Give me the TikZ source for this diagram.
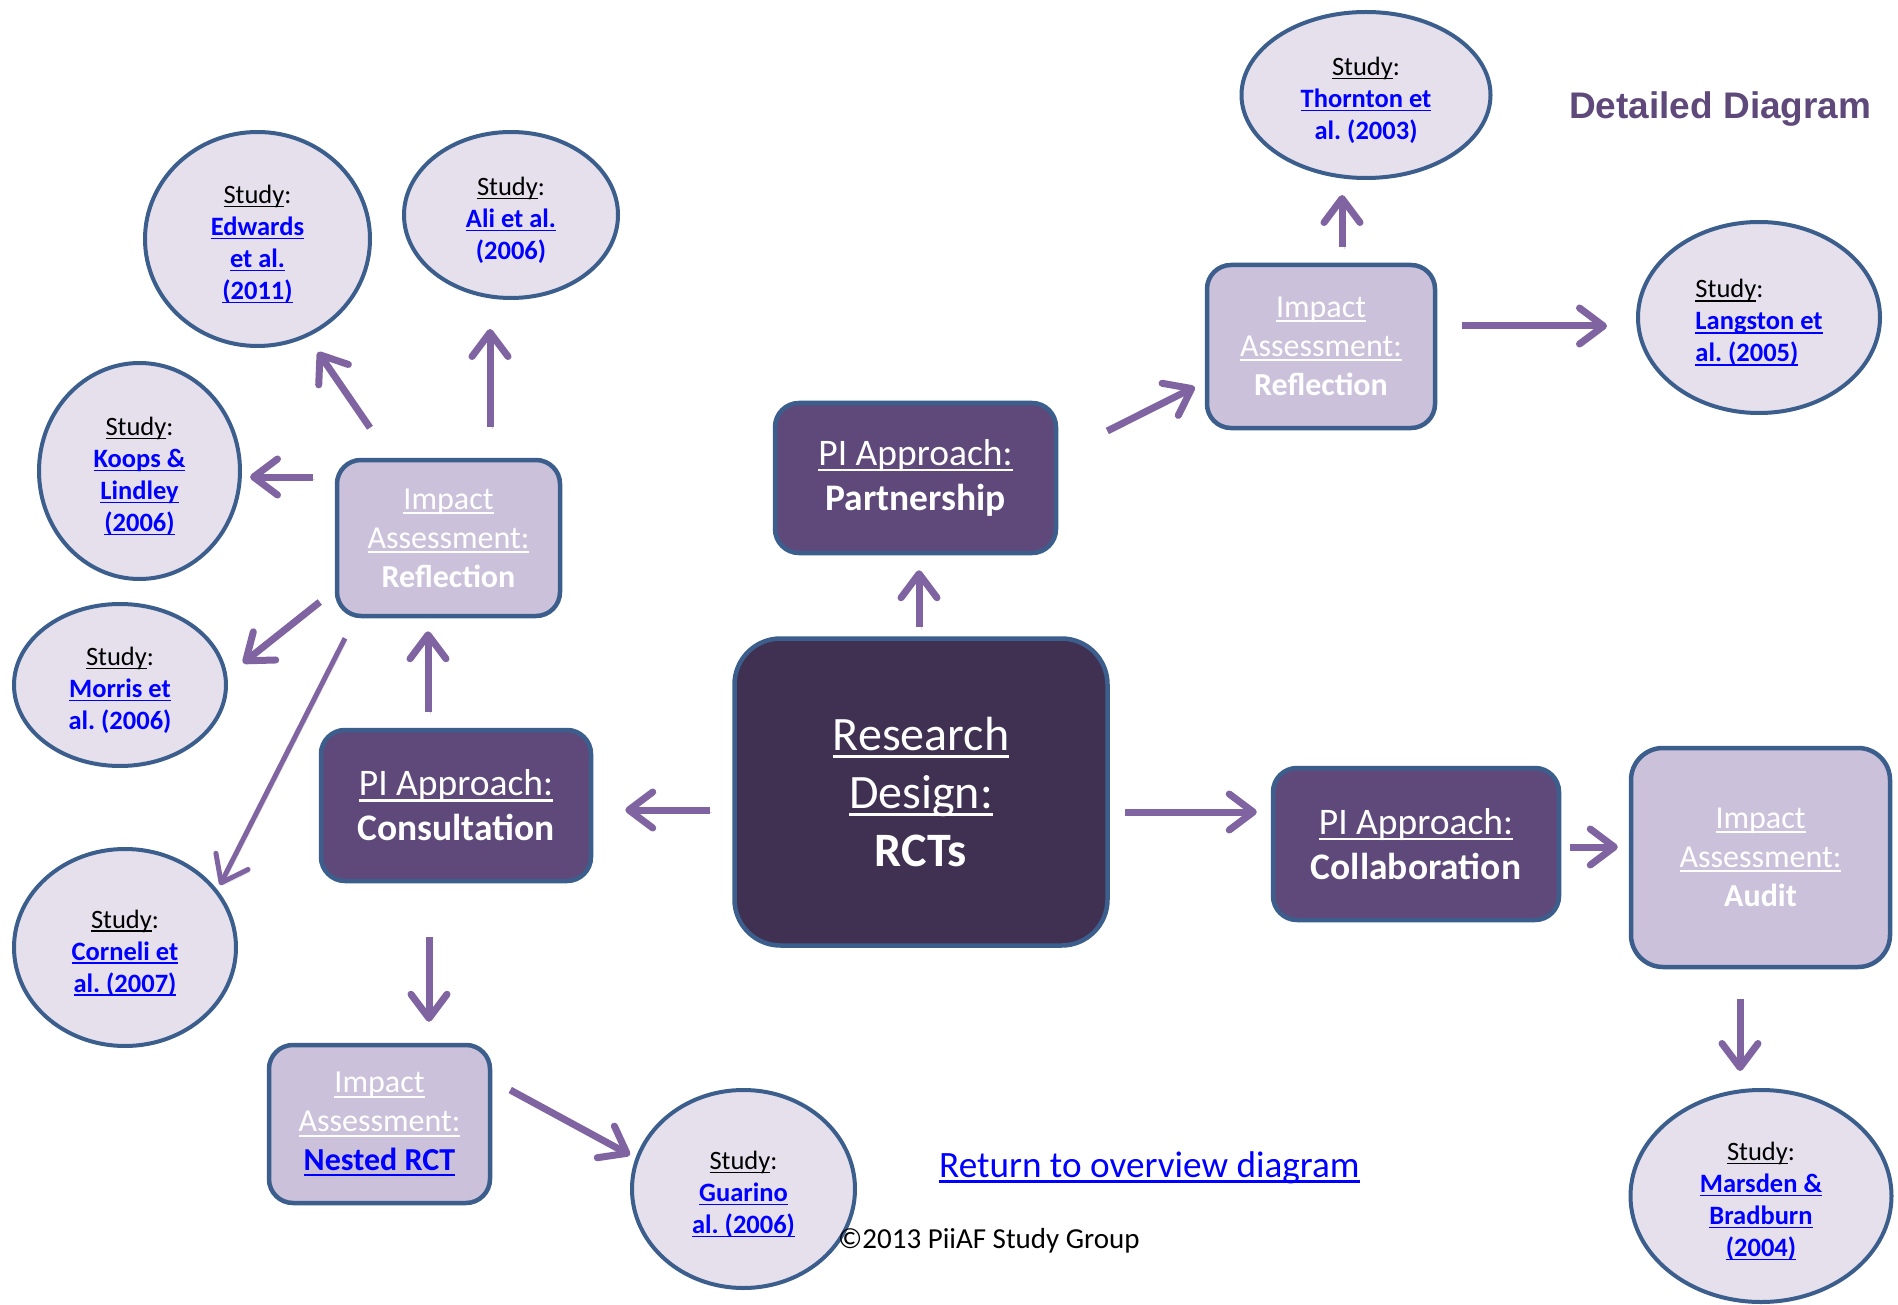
\documentclass[tikz,border=0pt]{standalone}
\usepackage{fontspec}
\setmainfont{Carlito}
\newfontfamily\headfont{Liberation Sans}
\usetikzlibrary{shapes.geometric,arrows.meta}
\frenchspacing

\definecolor{rcfill}{HTML}{403152}
\definecolor{pifill}{HTML}{5F497A}
\definecolor{iafill}{HTML}{CCC1DA}
\definecolor{stfill}{HTML}{E5E0EC}
\definecolor{edgeblue}{HTML}{3B5E8C}
\definecolor{arrowc}{HTML}{8064A2}
\definecolor{linkblue}{HTML}{0000FF}

% underline at a fixed depth below the baseline
\newcommand\ulbox[1]{\setbox0\hbox{#1}\rlap{\rule[-0.15em]{\wd0}{0.065em}}\box0}
\newcommand\ulink[1]{\textcolor{linkblue}{\ulbox{\bfseries #1}}}
\newcommand\plink[1]{\textcolor{linkblue}{\bfseries #1}}
% the strut lowers the text block a little inside its ellipse
\newcommand\studyhead{\rule{0pt}{29pt}\ulbox{Study}:}

\tikzset{
  box/.style={draw=edgeblue, line width=4.5pt, rounded corners=24pt, align=center,
    text=white, inner sep=0pt},
  rcbox/.style={box, fill=rcfill, rounded corners=46pt,
    font=\fontsize{48}{58}\selectfont},
  pibox/.style={box, fill=pifill, font=\fontsize{37.5}{45}\selectfont},
  iabox/.style={box, fill=iafill, font=\fontsize{32}{39}\selectfont},
  study/.style={ellipse, draw=edgeblue, line width=4pt, fill=stfill, align=center,
    inner sep=0pt, font=\fontsize{26.5}{32}\selectfont},
  arr/.style={draw=arrowc, line width=7pt,
    -{Straight Barb[length=24pt, width=36pt, round]},
    preaction={draw=black!30, opacity=0.45,
      transform canvas={xshift=2pt, yshift=-2.5pt}}}
}

\begin{document}
\begin{tikzpicture}[x=1pt, y=-1pt]
\fill[white] (0,0) rectangle (1898,1305);
\useasboundingbox (0,0) rectangle (1898,1305);

% central design and the three approaches
\node[rcbox, minimum width=373pt, minimum height=307pt] (rd) at (921,792)
  {\ulbox{Research}\\\ulbox{Design:}\\\textbf{RCTs}};
\node[pibox, minimum width=281pt, minimum height=150pt] (pa) at (915.5,478)
  {\ulbox{PI Approach:}\\\textbf{Partnership}};
\node[pibox, minimum width=270pt, minimum height=151pt] (pc) at (456,805.5)
  {\ulbox{PI Approach:}\\\textbf{Consultation}};
\node[pibox, minimum width=286pt, minimum height=152pt] (pco) at (1416,844)
  {\ulbox{PI Approach:}\\\textbf{Collaboration}};

% impact assessments
\node[iabox, minimum width=228pt, minimum height=163pt] (rr) at (1321,346.5)
  {\ulbox{Impact}\\\ulbox{Assessment:}\\\textbf{Reflection}};
\node[iabox, minimum width=223pt, minimum height=156pt] (rl) at (448.5,538)
  {\ulbox{Impact}\\\ulbox{Assessment:}\\\textbf{Reflection}};
\node[iabox, minimum width=221pt, minimum height=158pt] (nr) at (379.5,1124)
  {\ulbox{Impact}\\\ulbox{Assessment:}\\\ulink{Nested RCT}};
\node[iabox, rounded corners=32pt, minimum width=259pt, minimum height=219pt] (au) at (1760.5,857.5)
  {\ulbox{Impact}\\\ulbox{Assessment:}\\\textbf{Audit}};

% studies
\node[study, minimum width=225pt, minimum height=214pt] (ed) at (257.5,239)
  {\studyhead\\\ulink{Edwards}\\\ulink{et al.}\\\ulink{(2011)}};
\node[study, minimum width=214pt, minimum height=166pt] (al) at (511,215)
  {\studyhead\\\ulink{Ali et al.}\\\plink{(2006)}};
\node[study, minimum width=249pt, minimum height=166pt] (th) at (1366,95)
  {\studyhead\\\ulink{Thornton et}\\\plink{al. (2003)}};
\node[study, align=left, minimum width=242pt, minimum height=191pt] (la) at (1759,317.5)
  {\studyhead\\\ulink{Langston et}\\\ulink{al. (2005)}};
\node[study, minimum width=201pt, minimum height=216pt] (ko) at (139.5,471)
  {\studyhead\\\ulink{Koops \&}\\\ulink{Lindley}\\\ulink{(2006)}};
\node[study, minimum width=212pt, minimum height=162pt] (mo) at (120,685)
  {\studyhead\\\ulink{Morris et}\\\plink{al. (2006)}};
\node[study, minimum width=222pt, minimum height=197pt] (co) at (125,947.5)
  {\studyhead\\\ulink{Corneli et}\\\ulink{al. (2007)}};
\node[study, minimum width=223pt, minimum height=198pt] (gu) at (743.5,1189)
  {\studyhead\\\ulink{Guarino}\\\ulink{al. (2006)}};
\node[study, minimum width=261pt, minimum height=212pt] (ma) at (1761,1196)
  {\studyhead\\\ulink{Marsden \&}\\\ulink{Bradburn}\\\ulink{(2004)}};

% free texts
\node[anchor=base west, inner sep=0pt, text=pifill,
  font=\headfont\bfseries\fontsize{37}{44}\selectfont] (title) at (1569,119) {Detailed Diagram};
\node[anchor=base west, inner sep=0pt, text=linkblue,
  font=\fontsize{37.2}{42}\selectfont] (ret) at (939,1177) {\ulbox{Return to overview diagram}};
\node[anchor=base west, inner sep=0pt,
  font=\fontsize{29}{34}\selectfont] (copy) at (838,1248) {©2013 PiiAF Study Group};

% connectors
\draw[arr] ([xshift=-2pt,yshift=9pt]rd.north) -- ([xshift=3.5pt,yshift=-15pt]pa.south);
\draw[arr] ([xshift=49pt,yshift=47pt]pa.east) -- ([xshift=-10pt,yshift=-40.5pt]rr.west);
\draw[arr] ([xshift=21pt,yshift=16pt]rr.north) -- ([xshift=-24pt,yshift=-15pt]th.south);
\draw[arr] ([xshift=25pt,yshift=20.5pt]rr.east) -- ([xshift=-29pt,yshift=-8.5pt]la.west);
\draw[arr] ([xshift=15pt,yshift=-20pt]rd.east) -- ([xshift=-14pt,yshift=32pt]pco.west);
\draw[arr] ([xshift=9pt,yshift=-3pt]pco.east) -- ([xshift=-11pt,yshift=10.5pt]au.west);
\draw[arr] ([xshift=-20.5pt,yshift=-30pt]au.south) -- ([xshift=-21pt,yshift=17pt]ma.north);
\draw[arr] ([xshift=-22pt,yshift=-18pt]rd.west) -- ([xshift=32pt,yshift=-4.5pt]pc.east);
\draw[arr] ([xshift=-28pt,yshift=16pt]pc.north) -- ([xshift=-20.5pt,yshift=-13pt]rl.south);
\draw[arr] ([xshift=-27pt,yshift=-54pt]pc.south) -- ([xshift=49.5pt,yshift=21pt]nr.north);
\draw[arr] ([xshift=18pt,yshift=34pt]nr.east) -- ([yshift=34pt]gu.west);
\draw[arr] ([xshift=41.5pt,yshift=31pt]rl.north) -- ([xshift=-21pt,yshift=-29pt]al.south);
\draw[arr] ([xshift=-78.5pt,yshift=30pt]rl.north) -- ([xshift=60.5pt,yshift=-4pt]ed.south);
\draw[arr] ([xshift=-22pt,yshift=61pt]rl.west) -- ([xshift=8pt,yshift=-6pt]ko.east);
\draw[arr] ([xshift=-15pt,yshift=-64pt]rl.west) -- ([xshift=15pt,yshift=22pt]mo.east);
\draw[arr, line width=5pt] ([xshift=-103.5pt,yshift=-20pt]rl.south) -- ([xshift=95pt,yshift=-38pt]co.north);
\end{tikzpicture}
\end{document}
